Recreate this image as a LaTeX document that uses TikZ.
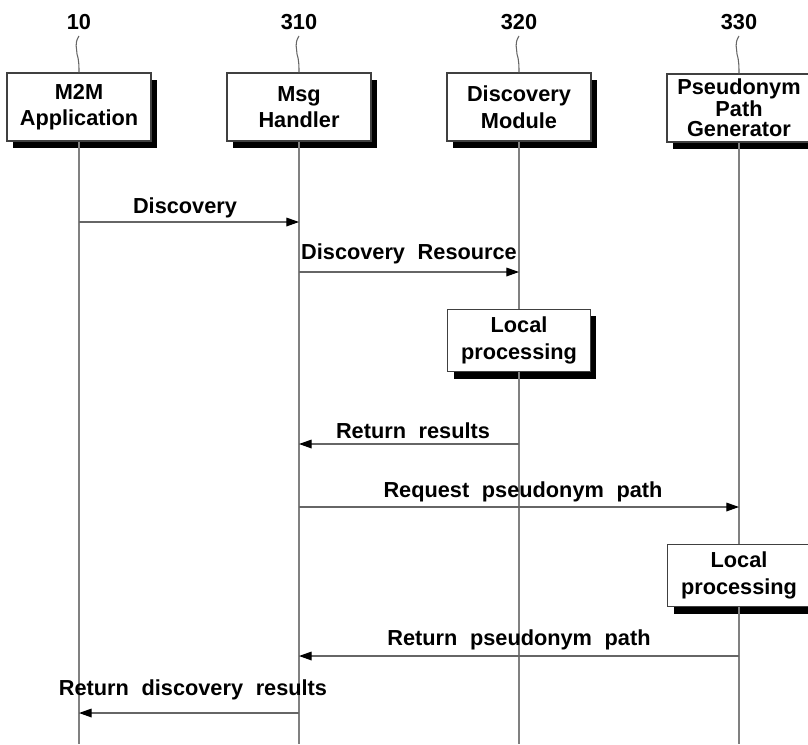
\documentclass[tikz,border=0pt]{standalone}
\usepackage{fontspec}
\setmainfont{Liberation Sans}[WordSpace={2.1}]
\usetikzlibrary{arrows.meta,shadows}
\begin{document}
\begin{tikzpicture}[x=0.75pt,y=-0.75pt,
  txt/.style={font=\bfseries\fontsize{16.3}{19}\selectfont, inner sep=0pt},
  actor/.style={draw=black!75, line width=0.8pt, fill=white, minimum width=108pt,
    minimum height=51pt, align=center, inner sep=0pt,
    font=\bfseries\fontsize{16.3}{20}\selectfont,
    drop shadow={shadow xshift=4.5pt, shadow yshift=-5.25pt, fill=black, opacity=1}},
  life/.style={draw=black!50, line width=0.9pt},
  squig/.style={draw=black!60, line width=0.8pt},
  msg/.style={draw=black!60, line width=0.9pt,
    -{Triangle[length=9.5pt,width=6.5pt,color=black]}}
]
\useasboundingbox (0,0) rectangle (808,744);

% participants
\node[actor] (app) at (79,107) {M2M\\Application};
\node[actor] (msgh) at (299,107) {Msg\\Handler};
\node[actor] (disc) at (519,107) {Discovery\\Module};
\node[actor, font=\bfseries\fontsize{16.3}{15}\selectfont] (pseu) at (739,108) {Pseudonym\\Path\\Generator};

% reference numerals
\node[txt] (n10) at (79,22) {10};
\node[txt] (n310) at (299,22) {310};
\node[txt] (n320) at (519,22) {320};
\node[txt] (n330) at (739,22) {330};

% wavy leaders from numerals to boxes
\foreach \n/\b in {n10/app, n310/msgh, n320/disc, n330/pseu}{
  \draw[squig] (\n.south) ++(0,6) .. controls +(-5,8) and +(0,-6) .. +(-2,18)
     .. controls +(2,6) and +(0,-6) .. (\b.north);
}

% lifeline ends
\coordinate (appE) at (79,744);
\coordinate (msghE) at (299,744);
\coordinate (discE) at (519,744);
\coordinate (pseuE) at (739,744);

% local processing boxes
\node[actor, minimum height=47pt, minimum width=107pt] (lp1) at (519,340.5) {Local\\processing};
\node[actor, minimum height=47pt, minimum width=107pt] (lp2) at (739,575.5) {Local\\processing};

% lifelines
\draw[life] (app.south) -- (appE);
\draw[life] (msgh.south) -- (msghE);
\draw[life] (disc.south) -- (lp1.north);
\draw[life] (lp1.south) -- (discE);
\draw[life] (pseu.south) -- (lp2.north);
\draw[life] (lp2.south) -- (pseuE);

% message rows
\coordinate (r1) at (0,222);
\coordinate (r2) at (0,272);
\coordinate (r3) at (0,444);
\coordinate (r4) at (0,507);
\coordinate (r5) at (0,656);
\coordinate (r6) at (0,713);

\draw[msg] (app |- r1) -- (msgh |- r1);
\draw[msg] (msgh |- r2) -- (disc |- r2);
\draw[msg] (disc |- r3) -- (msgh |- r3);
\draw[msg] (msgh |- r4) -- (pseu |- r4);
\draw[msg] (pseu |- r5) -- (msgh |- r5);
\draw[msg] (msgh |- r6) -- (app |- r6);

% message labels
\node[txt] (l1) at (185,208) {Discovery};
\node[txt] (l2) at (409,254) {Discovery Resource};
\node[txt] (l3) at (413,431) {Return results};
\node[txt] (l4) at (523,492) {Request pseudonym path};
\node[txt] (l5) at (519,640) {Return pseudonym path};
\node[txt] (l6) at (193,690) {Return discovery results};
\end{tikzpicture}
\end{document}
